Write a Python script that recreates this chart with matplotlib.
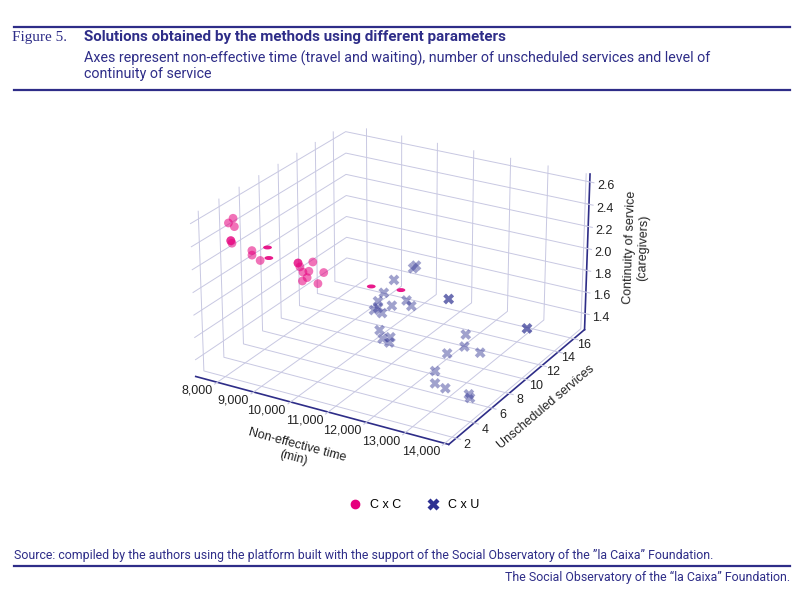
import matplotlib
matplotlib.use("Agg")
import matplotlib.pyplot as plt
from matplotlib.lines import Line2D
from matplotlib.path import Path
from matplotlib.transforms import Affine2D

# C x C solutions: non-effective time (min), unscheduled services, continuity (caregivers)
cxc_time = [8060, 7930, 8090, 7980, 7980, 8010, 8270, 8270, 8490,
            9250, 9250, 9300, 9650, 9540, 9380, 9490, 9360, 9940, 9780]
cxc_unsched = [3, 3, 3, 3, 3, 3, 4, 4, 4,
               5, 5, 5, 5, 5, 5, 5, 5, 5, 5]
cxc_cont = [2.60, 2.55, 2.53, 2.40, 2.40, 2.38, 2.28, 2.24, 2.21,
            2.19, 2.19, 2.16, 2.23, 2.14, 2.12, 2.08, 2.04, 2.16, 2.05]

# C x C points drawn as flattened marks in the original
cxc_flat_time = [8700, 8730, 10950, 11730]
cxc_flat_unsched = [4, 4, 6, 6]
cxc_flat_cont = [2.34, 2.25, 2.06, 2.09]

# C x U solutions
cxu_time = [10380, 10460, 9850, 10300, 10140, 10140, 10030, 10250, 10520,
            10920, 11050, 11590, 11590, 10920, 11000, 11210, 11180,
            12960, 12930, 12480, 13340, 12630, 12630, 12900, 13510, 13540,
            13890, 13890]
cxu_unsched = [13, 13, 13, 10, 10, 10, 10, 10, 10,
               10, 10, 12, 12, 7, 7, 7, 7,
               8, 8, 8, 8, 6, 6, 6, 6, 6,
               11, 11]
cxu_cont = [1.78, 1.81, 1.63, 1.72, 1.63, 1.57, 1.54, 1.53, 1.62,
            1.70, 1.66, 1.65, 1.65, 1.61, 1.54, 1.57, 1.52,
            1.68, 1.57, 1.47, 1.55, 1.45, 1.34, 1.32, 1.32, 1.29,
            1.63, 1.63]

x_ticks = [8000, 9000, 10000, 11000, 12000, 13000, 14000]
y_ticks = [2, 4, 6, 8, 10, 12, 14, 16]
z_ticks = [1.4, 1.6, 1.8, 2.0, 2.2, 2.4, 2.6]

navy = "#2e2d88"
pink = "#e6007e"
cross = "#2e3192"
grid_c = "#c8c8e2"

plt.rcParams["font.family"] = ["Liberation Sans", "DejaVu Sans"]
plt.rcParams["grid.color"] = grid_c
plt.rcParams["grid.linewidth"] = 0.7
plt.rcParams["axes.edgecolor"] = navy
plt.rcParams["axes.linewidth"] = 1.2

fig = plt.figure(figsize=(8, 5.91), dpi=100)

W, H = 800, 591
def fy(py):
    return 1 - py / H

head = ["Roboto"]
fig.add_artist(Line2D([14 / W, 790 / W], [fy(27), fy(27)], color=navy, lw=1.6))
fig.add_artist(Line2D([14 / W, 790 / W], [fy(90), fy(90)], color=navy, lw=1.6))
fig.add_artist(Line2D([14 / W, 790 / W], [fy(566), fy(566)], color=navy, lw=1.6))
fig.text(12 / W, fy(38), "Figure 5.", family=["Liberation Serif"], fontsize=11,
         color=navy, va="center")
fig.text(84 / W, fy(37), "Solutions obtained by the methods using different parameters",
         family=head, weight="bold", fontsize=10.9, color=navy, va="center")
fig.text(84 / W, fy(58), "Axes represent non-effective time (travel and waiting), number of unscheduled services and level of",
         family=head, fontsize=10.3, color=navy, va="center")
fig.text(84 / W, fy(74), "continuity of service",
         family=head, fontsize=10.3, color=navy, va="center")
fig.text(14 / W, fy(555), "Source: compiled by the authors using the platform built with the support of the Social Observatory of the \u201dla Caixa\u201d Foundation.",
         family=head, fontsize=8.9, color=navy, va="center")
fig.text(790 / W, fy(577), "The Social Observatory of the \u201cla Caixa\u201d Foundation.",
         family=head, fontsize=8.9, color=navy, va="center", ha="right")

ax = fig.add_axes([0.075, 0.145, 0.82, 0.76], projection="3d")
ax.view_init(elev=24, azim=-60)
ax.set_box_aspect((3.15, 3.2, 1.9), zoom=0.96)

flat = Path.unit_circle().transformed(Affine2D().scale(1, 0.45))

ax.scatter(cxc_time, cxc_unsched, cxc_cont, marker="o", s=40, color=pink,
           alpha=0.55, edgecolors="none", depthshade=False)
ax.scatter(cxc_flat_time, cxc_flat_unsched, cxc_flat_cont, marker=flat, s=40, color=pink,
           alpha=0.9, edgecolors="none", depthshade=False)
ax.scatter(cxu_time, cxu_unsched, cxu_cont, marker="X", s=60, color=cross,
           alpha=0.45, edgecolors="none", depthshade=False)

ax.set_xlim(7400, 14100)
ax.set_ylim(1.2, 17.4)
ax.set_zlim(1.25, 2.67)
ax.set_xticks(x_ticks)
ax.set_xticklabels([f"{v:,}" for v in x_ticks], ha="right", va="center")
ax.set_yticks(y_ticks)
ax.set_yticklabels([str(v) for v in y_ticks], va="baseline")
ax.set_zticks(z_ticks)
ax.set_zticklabels([f"{v:.1f}" for v in z_ticks])

for a in (ax.xaxis, ax.yaxis, ax.zaxis):
    a.set_pane_color((1, 1, 1, 0))
    a.pane.set_edgecolor(grid_c)
    a.line.set_color(navy)
ax.tick_params(axis="x", color=grid_c, labelcolor="#222222", labelsize=9, pad=-3)
ax.tick_params(axis="y", color=grid_c, labelcolor="#222222", labelsize=9, pad=-1)
ax.tick_params(axis="z", color=grid_c, labelcolor="#222222", labelsize=9, pad=-1)

ax.set_xlabel("Non-effective time\n(min)", fontsize=9, color="#222222", labelpad=4)
ax.set_ylabel("Unscheduled services", fontsize=9, color="#222222", labelpad=-4)
ax.set_zlabel("Continuity of service\n(caregivers)", fontsize=9, color="#222222", labelpad=1)

handles = [
    Line2D([], [], marker="o", ls="", color=pink, markersize=6),
    Line2D([], [], marker="X", ls="", color=cross, markersize=8, markeredgecolor="none"),
]
fig.legend(handles, ["C x C", "C x U"], loc="center", bbox_to_anchor=(0.5175, fy(505)),
           ncol=2, frameon=False, fontsize=9, columnspacing=2.1, handletextpad=0.7,
           handlelength=1.0)

fig.savefig("out.png", dpi=100)
